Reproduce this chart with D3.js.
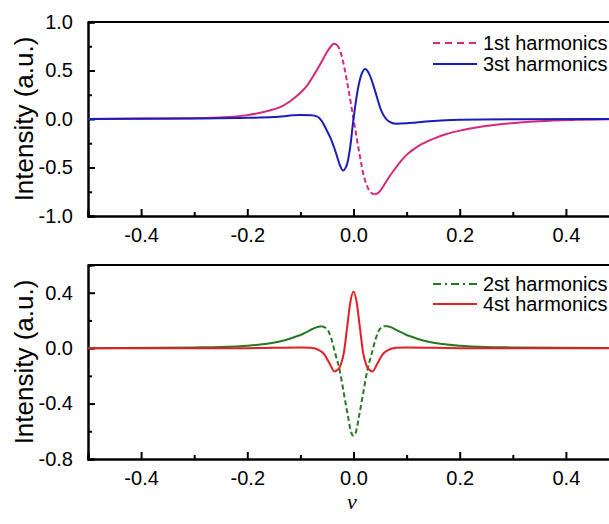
<!DOCTYPE html>
<html><head><meta charset="utf-8">
<script src="https://cdn.jsdelivr.net/npm/d3@7"></script>
<style>body{margin:0;background:#fff;} svg{display:block;font-family:Arial,"Liberation Sans",sans-serif;}</style>
</head><body>
<svg id="chart" width="609" height="524"></svg>
<script>
// ---- data ----
const h1X = [-0.5,-0.4,-0.3,-0.265,-0.2,-0.16,-0.139,-0.12,-0.1,-0.089,-0.075,-0.06,-0.05,-0.043,-0.037,-0.031,-0.025,-0.02,-0.01,0,0.01,0.02,0.028,0.034,0.0396,0.046,0.053,0.06,0.07,0.08,0.09,0.1,0.115,0.13,0.15,0.175,0.2,0.24,0.28,0.35,0.42,0.5];
const h1Y = [0,0.004,0.009,0.013,0.04,0.085,0.12,0.18,0.27,0.333,0.45,0.59,0.69,0.745,0.775,0.765,0.7,0.6,0.32,0,-0.32,-0.6,-0.72,-0.765,-0.775,-0.765,-0.72,-0.66,-0.575,-0.5,-0.43,-0.37,-0.305,-0.255,-0.205,-0.155,-0.12,-0.08,-0.052,-0.022,-0.008,0];
const h3X = [-0.5,-0.3,-0.2,-0.15,-0.1,-0.08,-0.068,-0.06,-0.051,-0.043,-0.033,-0.026,-0.02,-0.013,-0.007,0,0.008,0.015,0.022,0.03,0.04,0.052,0.06,0.068,0.08,0.1,0.118,0.15,0.2,0.3,0.5];
const h3Y = [0,0.005,0.012,0.02,0.04,0.038,0.025,-0.02,-0.11,-0.2,-0.35,-0.47,-0.53,-0.48,-0.32,0,0.3,0.46,0.515,0.46,0.3,0.09,0.01,-0.03,-0.05,-0.045,-0.035,-0.02,-0.008,-0.002,0];
const h2X = [-0.5,-0.3,-0.25,-0.2,-0.16,-0.139,-0.12,-0.108,-0.1,-0.083,-0.07,-0.06,-0.05,-0.042,-0.035,-0.026,-0.018,-0.01,-0.005,0,0.005,0.01,0.018,0.026,0.035,0.042,0.05,0.06,0.07,0.083,0.1,0.108,0.12,0.139,0.16,0.2,0.25,0.3,0.5];
const h2Y = [0,0.005,0.008,0.017,0.033,0.048,0.068,0.084,0.095,0.127,0.15,0.158,0.14,0.07,-0.03,-0.16,-0.33,-0.5,-0.6,-0.632,-0.6,-0.5,-0.33,-0.16,-0.03,0.07,0.14,0.16,0.152,0.127,0.095,0.084,0.068,0.048,0.033,0.017,0.008,0.005,0];
const h4X = [-0.5,-0.2,-0.1,-0.08,-0.065,-0.055,-0.045,-0.036,-0.028,-0.024,-0.018,-0.012,-0.006,0,0.006,0.012,0.018,0.024,0.028,0.036,0.045,0.055,0.065,0.08,0.1,0.2,0.5];
const h4Y = [0,0,0.004,0.002,-0.015,-0.045,-0.11,-0.168,-0.15,-0.12,-0.03,0.15,0.33,0.408,0.33,0.15,-0.03,-0.12,-0.15,-0.168,-0.11,-0.045,-0.015,0.002,0.004,0,0];

const xTicks = [-0.4,-0.2,0.0,0.2,0.4];
const xMinor = [-0.5,-0.3,-0.1,0.1,0.3,0.5];
const yTicksTop = [-1.0,-0.5,0.0,0.5,1.0];
const yMinorTop = [-0.75,-0.25,0.25,0.75];
const yTicksBot = [-0.8,-0.4,0.0,0.4];
const yMinorBot = [-0.6,-0.2,0.2];
const legendTop = ["1st harmonics","3st harmonics"];
const legendBot = ["2st harmonics","4st harmonics"];
const yLabel = "Intensity (a.u.)";
const xLabel = "ν";

// ---- layout ----
const svg = d3.select("#chart");
const left = 88, right = 619;
const x = d3.scaleLinear().domain([-0.5,0.5]).range([left,right]);
const yT = d3.scaleLinear().domain([-1,1]).range([216,22]);
const yB = d3.scaleLinear().domain([-0.8,0.6]).range([459,265]);
const fmt = d => d3.format(".1f")(d).replace("\u2212","-");

function zip(xs, ys){ return xs.map((v,i)=>[v,ys[i]]); }

function panel(y, ticks, minor){
  const g = svg.append("g");
  const [y0,y1] = y.range();
  g.append("line").attr("x1",left).attr("x2",right).attr("y1",y1).attr("y2",y1).attr("stroke","#000").attr("stroke-width",2);
  const xa = g.append("g").attr("transform",`translate(0,${y0})`)
    .call(d3.axisBottom(x).tickValues(xTicks).tickSize(-7).tickPadding(12).tickFormat(fmt));
  const xm = g.append("g").attr("transform",`translate(0,${y0})`)
    .call(d3.axisBottom(x).tickValues(xMinor).tickSize(-4).tickFormat(""));
  const ya = g.append("g").attr("transform",`translate(${left},0)`)
    .call(d3.axisLeft(y).tickValues(ticks).tickSize(-7).tickPadding(15).tickFormat(fmt));
  const ym = g.append("g").attr("transform",`translate(${left},0)`)
    .call(d3.axisLeft(y).tickValues(minor).tickSize(-4).tickFormat(""));
  [xa,xm,ya,ym].forEach(a=>{
    a.select(".domain").attr("stroke","#000").attr("stroke-width",2);
    a.selectAll(".tick line").attr("stroke","#000").attr("stroke-width",2);
    a.selectAll(".tick text").attr("font-size",20).attr("fill","#000").attr("font-family","Arial, 'Liberation Sans', sans-serif");
  });
  return g;
}

function drawSeries(g, y, xs, ys, color, dashLo, dashHi, dash){
  const pts = zip(xs, ys);
  const line = d3.line().x(d=>x(d[0])).y(d=>y(d[1])).curve(d3.curveMonotoneX);
  if (dashLo === null){
    g.append("path").attr("d",line(pts)).attr("fill","none").attr("stroke",color).attr("stroke-width",2);
    return;
  }
  const leftPts = pts.filter(d=>d[0] <= dashLo);
  const midPts = pts.filter(d=>d[0] >= dashLo && d[0] <= dashHi);
  const rightPts = pts.filter(d=>d[0] >= dashHi);
  [leftPts,rightPts].forEach(p=>g.append("path").attr("d",line(p)).attr("fill","none").attr("stroke",color).attr("stroke-width",2));
  g.append("path").attr("d",line(midPts)).attr("fill","none").attr("stroke",color).attr("stroke-width",2).attr("stroke-dasharray",dash);
}

function legend(g, items, y0, dy){
  items.forEach((it,i)=>{
    const yy = y0 + i*dy;
    g.append("line").attr("x1",433).attr("x2",477).attr("y1",yy).attr("y2",yy)
      .attr("stroke",it.color).attr("stroke-width",2).attr("stroke-dasharray",it.dash||null);
    g.append("text").attr("x",483).attr("y",yy+7).attr("font-size",20).attr("fill","#000").text(it.label);
  });
}

const magenta = "#d42a7c", blue = "#1c1cb8", green = "#237a23", red = "#e31e24";

const gT = panel(yT, yTicksTop, yMinorTop);
drawSeries(gT, yT, h1X, h1Y, magenta, -0.031, 0.0396, "5,3");
drawSeries(gT, yT, h3X, h3Y, blue, null, null, null);
legend(gT, [{label:legendTop[0],color:magenta,dash:"7,5"},{label:legendTop[1],color:blue}], 43, 21);

const gB = panel(yB, yTicksBot, yMinorBot);
drawSeries(gB, yB, h2X, h2Y, green, -0.06, 0.06, "5,3");
drawSeries(gB, yB, h4X, h4Y, red, null, null, null);
legend(gB, [{label:legendBot[0],color:green,dash:"8,4,2,4"},{label:legendBot[1],color:red}], 284, 20);

[yT, yB].forEach(y=>{
  const c = (y.range()[0]+y.range()[1])/2;
  svg.append("text").attr("transform",`translate(33,${c}) rotate(-90)`)
    .attr("text-anchor","middle").attr("font-size",26).attr("fill","#000").text(yLabel);
});
svg.append("text").attr("x",352).attr("y",509).attr("text-anchor","middle")
  .attr("font-family","'Liberation Serif','Times New Roman',serif").attr("font-style","italic")
  .attr("font-size",22).attr("fill","#000").text(xLabel);
</script>
</body></html>
